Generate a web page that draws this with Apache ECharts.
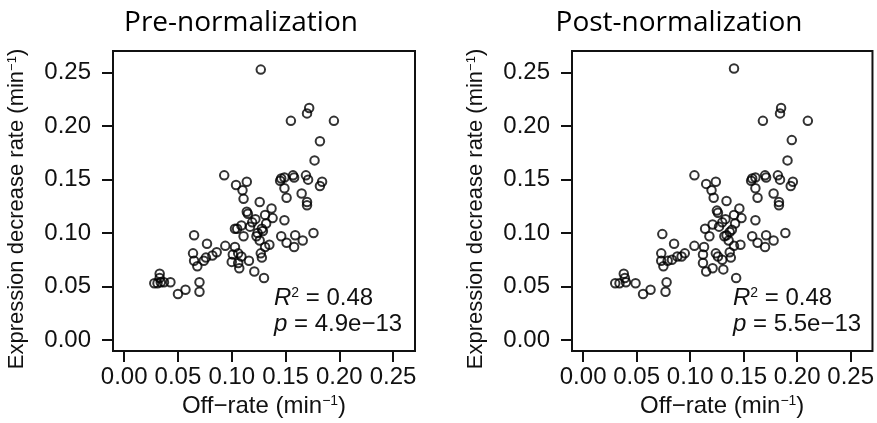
<!DOCTYPE html>
<html><head><meta charset="utf-8">
<script src="https://cdn.jsdelivr.net/npm/echarts@6/dist/echarts.min.js"></script>
<style>html,body{margin:0;padding:0;background:#fff}#c{width:877px;height:423px}</style>
</head><body><div id="c"></div>
<script>
const panelTitles = ['Pre-normalization', 'Post-normalization'];
const tickValues = [0, 0.05, 0.10, 0.15, 0.20, 0.25];
const tickLabels = ['0.00', '0.05', '0.10', '0.15', '0.20', '0.25'];
const r2Values = ['0.48', '0.48'];
const pValues = ['4.9e\u221213', '5.5e\u221213'];

const preOffRate = [0.028,0.031,0.033,0.033,0.034,0.037,0.043,0.050,0.057,0.070,0.070,
  0.065,0.077,0.064,0.065,0.068,0.074,0.076,0.082,0.086,0.094,0.103,0.101,0.100,
  0.093,0.104,0.114,0.110,0.111,0.126,0.114,0.115,0.109,0.105,0.111,0.103,0.106,0.109,0.116,0.107,
  0.121,0.127,0.128,0.130,0.123,0.126,0.131,0.129,0.132,0.131,0.138,0.137,0.128,0.124,0.135,
  0.146,0.151,0.159,0.158,0.166,0.176,0.149,0.170,0.106,
  0.127,0.155,0.172,0.170,0.195,0.182,0.177,0.146,0.149,0.157,0.158,0.145,0.149,0.151,0.165,
  0.169,0.171,0.184,0.182,0.170,0.117,0.119,0.122];
const preDecrease = [0.053,0.053,0.062,0.058,0.054,0.054,0.054,0.043,0.047,0.054,0.045,
  0.098,0.090,0.081,0.074,0.069,0.074,0.077,0.079,0.082,0.088,0.104,0.080,0.073,
  0.154,0.145,0.148,0.140,0.132,0.129,0.120,0.118,0.107,0.104,0.097,0.087,0.081,0.078,0.074,0.067,
  0.064,0.081,0.077,0.058,0.097,0.093,0.087,0.102,0.109,0.117,0.114,0.123,0.104,0.100,0.089,
  0.097,0.091,0.098,0.087,0.093,0.100,0.112,0.126,0.072,
  0.253,0.205,0.217,0.212,0.205,0.186,0.168,0.151,0.152,0.154,0.152,0.149,0.142,0.133,0.137,
  0.154,0.150,0.148,0.144,0.129,0.106,0.110,0.113];

const postOffRate = [0.030,0.034,0.038,0.039,0.040,0.049,0.056,0.063,0.078,0.077,
  0.074,0.085,0.073,0.073,0.075,0.079,0.083,0.088,0.092,0.095,0.104,0.113,0.112,0.112,0.115,
  0.104,0.115,0.124,0.120,0.122,0.134,0.125,0.126,0.114,0.121,0.118,
  0.124,0.126,0.130,0.121,0.131,0.137,0.138,0.143,0.132,0.136,0.141,0.139,0.142,0.141,0.148,0.146,
  0.137,0.134,0.147,0.158,0.163,0.171,0.170,0.178,0.189,0.161,0.183,
  0.141,0.168,0.185,0.184,0.210,0.195,0.191,0.158,0.161,0.170,0.171,0.157,0.161,0.163,0.178,
  0.182,0.184,0.196,0.194,0.183,0.127,0.130,0.133];
const postDecrease = [0.053,0.053,0.062,0.058,0.054,0.053,0.043,0.047,0.054,0.045,
  0.099,0.090,0.081,0.074,0.069,0.074,0.075,0.078,0.078,0.081,0.088,0.087,0.080,0.072,0.064,
  0.154,0.146,0.148,0.140,0.133,0.130,0.121,0.119,0.104,0.108,0.097,
  0.081,0.078,0.075,0.067,0.066,0.082,0.077,0.058,0.097,0.093,0.088,0.103,0.109,0.117,0.114,0.123,
  0.101,0.098,0.089,0.097,0.091,0.098,0.087,0.093,0.100,0.112,0.126,
  0.254,0.205,0.217,0.212,0.205,0.187,0.168,0.151,0.152,0.154,0.152,0.149,0.142,0.133,0.137,
  0.154,0.150,0.148,0.144,0.129,0.106,0.110,0.113];

const AX_MIN = -0.0104, AX_MAX = 0.2704;
const FONT = '"Liberation Sans", Arial, Helvetica, sans-serif';
const INK = '#111';
function richFor(size, supSize) {
  return {
    b: { fontSize: size, fontFamily: FONT, color: INK },
    sup: { fontSize: supSize, fontFamily: FONT, color: INK, verticalAlign: 'top' }
  };
}
function tickLabel(v) {
  let best = 0;
  tickValues.forEach((t, i) => { if (Math.abs(t - v) < Math.abs(tickValues[best] - v)) best = i; });
  return tickLabels[best];
}
function baseAxis(gi) {
  return {
    gridIndex: gi, type: 'value', min: AX_MIN, max: AX_MAX,
    axisLine: { show: false, onZero: false },
    splitLine: { show: false },
    axisTick: { show: true, length: 11, lineStyle: { color: INK, width: 2 }, customValues: tickValues },
    nameLocation: 'middle'
  };
}
function makeX(gi) {
  return Object.assign(baseAxis(gi), {
    axisLabel: { customValues: tickValues, formatter: tickLabel, fontSize: 24, fontFamily: FONT, color: INK, margin: 14 },
    name: '{b|Off\u2212rate (min}{sup|\u22121}{b|)}', nameGap: 43,
    nameTextStyle: { rich: richFor(24, 14) }
  });
}
function makeY(gi) {
  return Object.assign(baseAxis(gi), {
    axisLabel: { customValues: tickValues, formatter: tickLabel, fontSize: 24, fontFamily: FONT, color: INK, margin: 22 },
    name: '{b|Expression decrease rate (min}{sup|\u22121}{b|)}', nameGap: 85,
    nameTextStyle: { rich: richFor(22, 13), padding: [0, 16, 0, 0] }
  });
}
const grids = [
  { left: 113, top: 51, width: 302, height: 302 },
  { left: 572, top: 51, width: 302, height: 302 }
].map(g => Object.assign(g, { show: true, borderColor: INK, borderWidth: 2, backgroundColor: '#fff' }));

function pairs(xs, ys) { return xs.map((x, i) => [x, ys[i]]); }
const pointStyle = { color: 'rgba(0,0,0,0)', borderColor: '#000', borderWidth: 2 };

const titleCenters = [241, 679];
const annotLeft = [274, 733];
const graphics = [];
panelTitles.forEach((t, i) => {
  graphics.push({ type: 'text', x: titleCenters[i], y: 23, style: { text: t, fontSize: 28, fontFamily: '"Open Sans", Lato, sans-serif', fill: '#000', textAlign: 'center', textVerticalAlign: 'middle' } });
  graphics.push({ type: 'text', x: annotLeft[i], y: 298, style: {
    text: '{i|R}{s|2}{n| = ' + r2Values[i] + '}', textVerticalAlign: 'middle',
    rich: { i: { fontSize: 24, fontStyle: 'italic', fontFamily: FONT, fill: INK }, s: { fontSize: 14, fontFamily: FONT, fill: INK, verticalAlign: 'top' }, n: { fontSize: 24, fontFamily: FONT, fill: INK } } } });
  graphics.push({ type: 'text', x: annotLeft[i], y: 324, style: {
    text: '{i|p}{n| = ' + pValues[i] + '}', textVerticalAlign: 'middle',
    rich: { i: { fontSize: 24, fontStyle: 'italic', fontFamily: FONT, fill: INK }, n: { fontSize: 24, fontFamily: FONT, fill: INK } } } });
});

const chart = echarts.init(document.getElementById('c'), null, { renderer: 'canvas' });
chart.setOption({
  animation: false,
  backgroundColor: '#fff',
  grid: grids,
  xAxis: [makeX(0), makeX(1)],
  yAxis: [makeY(0), makeY(1)],
  series: [
    { type: 'scatter', xAxisIndex: 0, yAxisIndex: 0, symbol: 'circle', symbolSize: 8.5, itemStyle: pointStyle, data: pairs(preOffRate, preDecrease) },
    { type: 'scatter', xAxisIndex: 1, yAxisIndex: 1, symbol: 'circle', symbolSize: 8.5, itemStyle: pointStyle, data: pairs(postOffRate, postDecrease) }
  ],
  graphic: graphics
});
</script></body></html>
